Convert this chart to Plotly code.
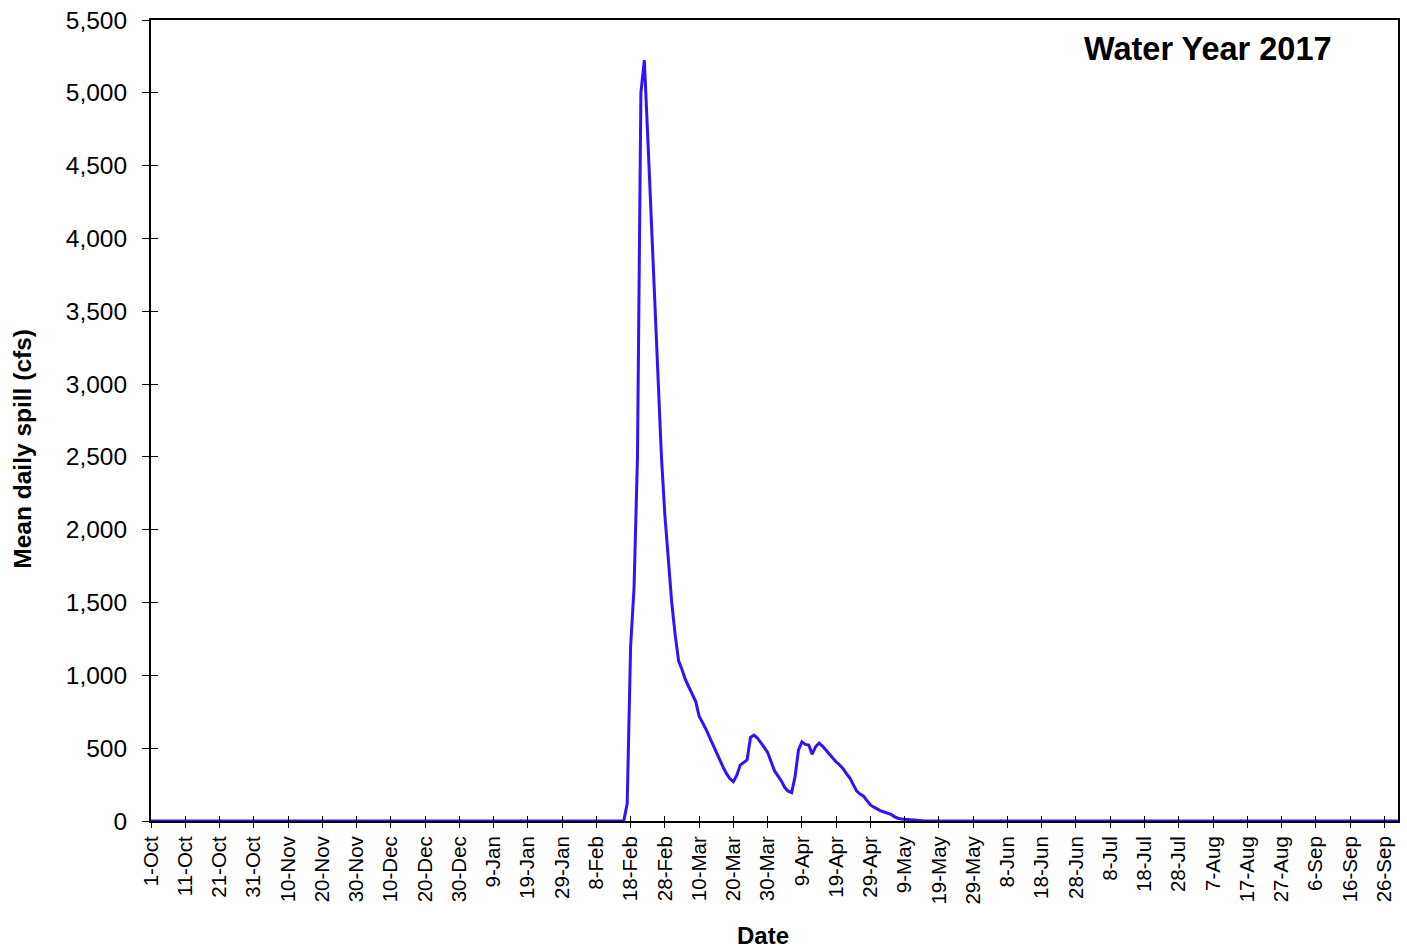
import pandas as pd
import plotly.graph_objects as go

# Water year 2017: 1-Oct-2016 .. 30-Sep-2017
dates = pd.date_range("2016-10-01", "2017-09-30", freq="D")

# Non-zero spill period, starting 16-Feb-2017
spill_start = "2017-02-16"
spill_values = [
    0, 120, 1200, 1600, 2500, 5000, 5225, 4700, 4150, 3650,
    3080, 2500, 2100, 1780, 1500, 1280, 1100, 1040, 970, 920,
    870, 820, 720, 680, 630, 578, 525, 470, 415, 370,
    325, 290, 270, 315, 384, 400, 420, 574, 590, 570,
    540, 505, 470, 400, 345, 310, 275, 230, 205, 195,
    304, 487, 544, 526, 521, 459, 510, 535, 515, 487,
    460, 430, 405, 385, 360, 325, 295, 250, 205, 185,
    170, 140, 110, 95, 80, 70, 62, 55, 45, 30,
    19, 14, 12, 8, 5, 2, 0,
]

y_ticks = list(range(0, 5501, 500))
title_text = "Water Year 2017"
x_title = "Date"
y_title = "Mean daily spill (cfs)"

spill = pd.Series(0.0, index=dates)
idx0 = dates.get_loc(pd.Timestamp(spill_start))
spill.iloc[idx0:idx0 + len(spill_values)] = spill_values

tick_dates = pd.date_range("2016-10-01", "2017-09-30", freq="10D")
tick_text = [f"{d.day}-{d.strftime('%b')}" for d in tick_dates]

FONT = "Liberation Sans, Arial, sans-serif"
x_range = [pd.Timestamp("2016-10-01"), pd.Timestamp("2017-09-30")]
y_range = [0, 5500]

fig = go.Figure()
fig.add_trace(go.Scatter(
    x=spill.index, y=spill.values, mode="lines",
    line=dict(color="#3311FF", width=3), showlegend=False,
))
# invisible trace on overlay axes, giving inside ticks (crossing tick marks)
fig.add_trace(go.Scatter(x=[x_range[0]], y=[0], xaxis="x2", yaxis="y2",
                         mode="markers", marker=dict(opacity=0), showlegend=False,
                         hoverinfo="skip"))

fig.update_layout(
    width=1407, height=950,
    margin=dict(l=151, r=7, t=19, b=129),
    paper_bgcolor="white", plot_bgcolor="white",
    font=dict(family=FONT, color="black"),
    xaxis=dict(
        type="date", range=x_range, tickvals=list(tick_dates), ticktext=tick_text,
        tickangle=-90, tickfont=dict(size=20.5, family=FONT),
        ticks="outside", ticklen=5, tickcolor="black", tickwidth=1,
        showline=True, linecolor="black", linewidth=2, mirror=True,
        showgrid=False, zeroline=False,
    ),
    yaxis=dict(
        range=y_range, tickvals=y_ticks, tickformat=",d",
        tickfont=dict(size=24.5, family=FONT), ticklabelstandoff=10,
        ticks="outside", ticklen=7, tickcolor="black", tickwidth=1,
        showline=True, linecolor="black", linewidth=2, mirror=True,
        showgrid=False, zeroline=False,
    ),
    xaxis2=dict(
        type="date", range=x_range, tickvals=list(tick_dates), overlaying="x",
        ticks="inside", ticklen=5, tickcolor="black", tickwidth=1,
        showticklabels=False, showgrid=False, zeroline=False, showline=False,
    ),
    yaxis2=dict(
        range=y_range, tickvals=y_ticks, overlaying="y",
        ticks="inside", ticklen=7, tickcolor="black", tickwidth=1,
        showticklabels=False, showgrid=False, zeroline=False, showline=False,
    ),
    annotations=[
        dict(text=f"<b>{title_text}</b>", xref="paper", yref="paper",
             x=(1336 - 151) / 1249, y=(821 - 48) / 802, xanchor="right", yanchor="middle",
             showarrow=False, font=dict(size=32.5, family=FONT)),
        dict(text=f"<b>{x_title}</b>", xref="paper", yref="paper",
             x=(764 - 151) / 1249, y=-(936 - 821) / 802, xanchor="center", yanchor="middle",
             showarrow=False, font=dict(size=24, family=FONT)),
        dict(text=f"<b>{y_title}</b>", xref="paper", yref="paper",
             x=-(151 - 22) / 1249, y=(821 - 448) / 802, xanchor="center", yanchor="middle",
             textangle=-90, showarrow=False, font=dict(size=24.5, family=FONT)),
    ],
)

fig.write_html("out.html")
